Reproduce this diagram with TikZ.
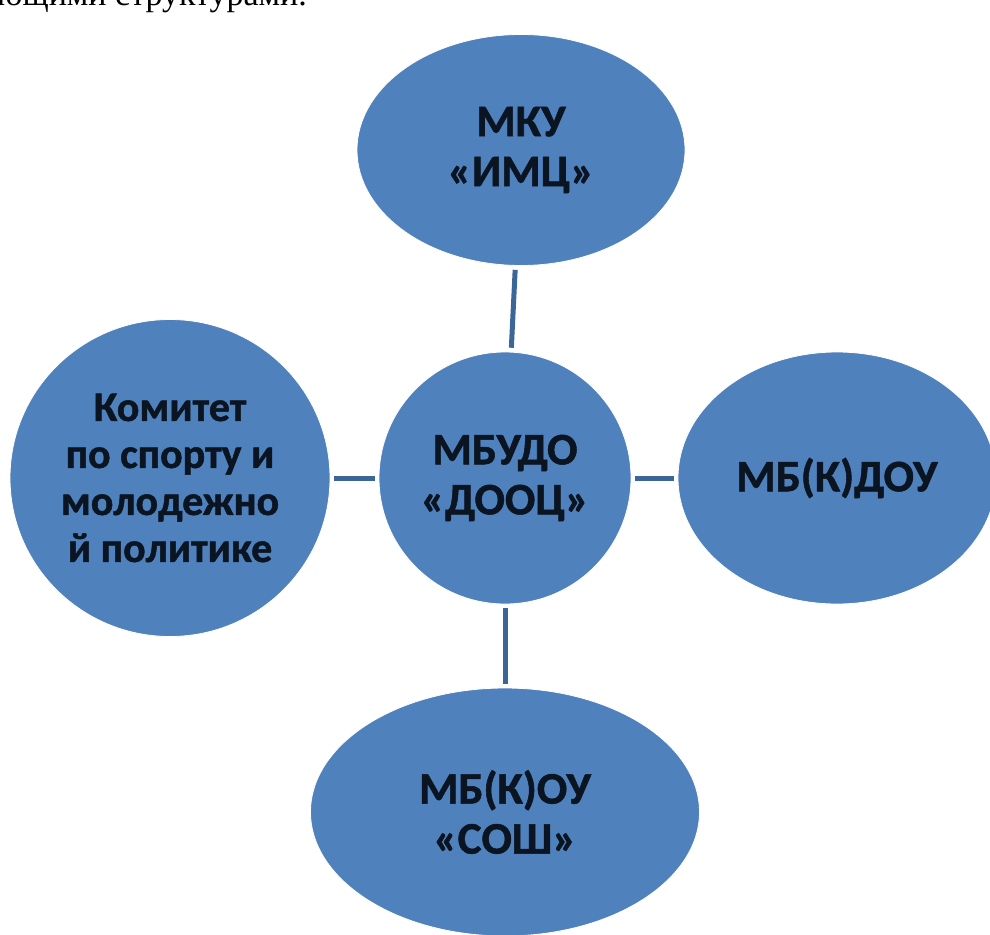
\documentclass[tikz,border=0pt]{standalone}
\usepackage{fontspec}
\setmainfont{Carlito}[BoldFeatures={FakeBold=1.2}]
\newfontfamily\bodyfont{Liberation Serif}
\usetikzlibrary{shapes.geometric}

\definecolor{unitblue}{HTML}{4F81BD}
\definecolor{linkblue}{HTML}{3B6698}
\definecolor{unittext}{HTML}{0B1522}

\begin{document}
\begin{tikzpicture}[x=1pt, y=-1pt, align=center,
    unit/.style={ellipse, fill=unitblue, draw=white, line width=0.8pt, inner sep=0pt,
      text=unittext, font=\fontsize{45}{50}\selectfont\bfseries},
    link/.style={draw=linkblue, line width=5pt, shorten <=4pt, shorten >=4pt}]
  \useasboundingbox (0,0) rectangle (990,934);
  \clip (0,0) rectangle (990,934);

  % line of the page text above the picture
  \node (caption) [anchor=base west, inner sep=0pt, font=\bodyfont\fontsize{34}{40}\selectfont] at (-3,6) {ющими структурами.};

  \node (dooc) [unit, minimum width=252pt, minimum height=252pt] at (505,478) {МБУДО \\ «ДООЦ»};
  \node (imc) [unit, minimum width=328pt, minimum height=231pt] at (521,150) {МКУ \\ «ИМЦ»};
  \node (dou) [unit, minimum width=318pt, minimum height=252pt] at (837,478) {МБ(К)ДОУ};
  \node (sosh) [unit, minimum width=389pt, minimum height=248pt] at (505,812) {МБ(К)ОУ \\ «СОШ»};
  \node (komitet) [unit, minimum width=320pt, minimum height=317pt, font=\fontsize{42}{47}\selectfont\bfseries] at (170,478) {Комитет \\ по спорту и \\ молодежно \\ й политике};

  % links from the centre
  \draw[link] (dooc) -- (imc);
  \draw[link] (dooc) -- (dou);
  \draw[link] (dooc) -- (sosh);
  \draw[link] (dooc) -- (komitet);
\end{tikzpicture}
\end{document}
